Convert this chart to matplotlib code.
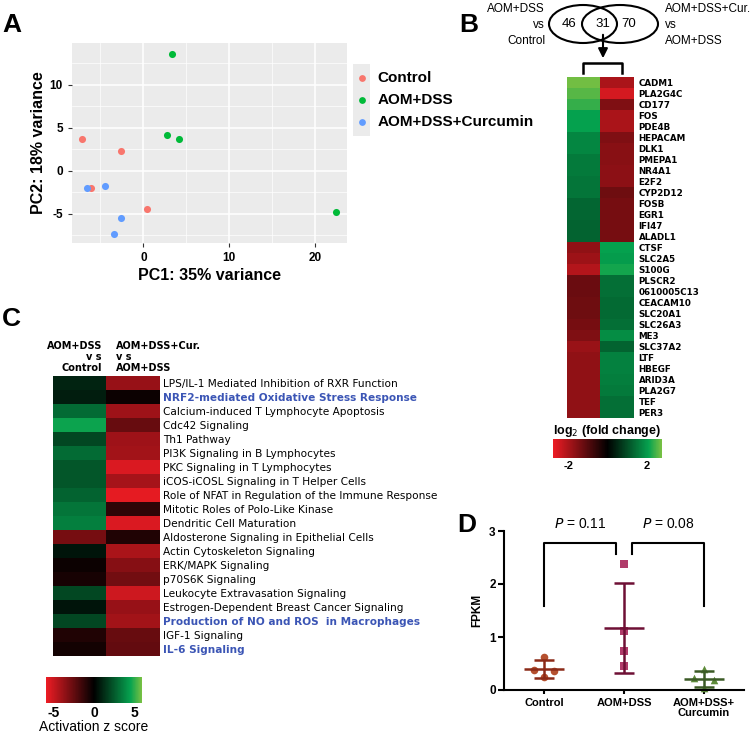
import numpy as np
import matplotlib
matplotlib.use("Agg")
import matplotlib.pyplot as plt
from matplotlib.colors import LinearSegmentedColormap
from matplotlib.patches import Ellipse
from matplotlib.cm import ScalarMappable
from matplotlib.colors import Normalize

plt.rcParams['font.family'] = ['Liberation Sans', 'DejaVu Sans']
plt.rcParams['axes.unicode_minus'] = False

# ---- data: panel A (PCA)
pca_groups = ['Control', 'AOM+DSS', 'AOM+DSS+Curcumin']
pca_colors = ['#F8766D', '#00BA38', '#619CFF']
pc1 = {'Control': [-7.1, -2.6, -6.1, 0.4],
       'AOM+DSS': [3.3, 2.8, 4.15, 22.4],
       'AOM+DSS+Curcumin': [-6.6, -4.5, -2.6, -3.4]}
pc2 = {'Control': [3.7, 2.3, -2.05, -4.5],
       'AOM+DSS': [13.6, 4.2, 3.7, -4.85],
       'AOM+DSS+Curcumin': [-2.05, -1.8, -5.5, -7.3]}

# ---- data: panel B (venn + genes heatmap)
venn_counts = [46, 31, 70]
genes = ['CADM1', 'PLA2G4C', 'CD177', 'FOS', 'PDE4B', 'HEPACAM', 'DLK1', 'PMEPA1',
         'NR4A1', 'E2F2', 'CYP2D12', 'FOSB', 'EGR1', 'IFI47', 'ALADL1', 'CTSF',
         'SLC2A5', 'S100G', 'PLSCR2', '0610005C13', 'CEACAM10', 'SLC20A1', 'SLC26A3',
         'ME3', 'SLC37A2', 'LTF', 'HBEGF', 'ARID3A', 'PLA2G7', 'TEF', 'PER3']
fc_dss = [2.75, 2.6, 2.4, 2.1, 2.1, 1.75, 1.75, 1.6, 1.6, 1.55, 1.55, 1.35, 1.35, 1.3, 1.3,
          -1.7, -1.85, -2.1, -1.25, -1.25, -1.3, -1.3, -1.4, -1.5, -1.8, -1.7, -1.7, -1.7,
          -1.7, -1.7, -1.7]
fc_cur = [-2.0, -2.5, -1.5, -2.0, -2.0, -1.5, -1.6, -1.6, -1.65, -1.65, -1.3, -1.4, -1.4,
          -1.4, -1.4, 2.1, 2.05, 2.2, 1.45, 1.45, 1.4, 1.4, 1.45, 1.85, 1.3, 1.7, 1.7, 1.65,
          1.6, 1.45, 1.45]

# ---- data: panel C (pathways)
pathways = ['LPS/IL-1 Mediated Inhibition of RXR Function',
            'NRF2-mediated Oxidative Stress Response',
            'Calcium-induced T Lymphocyte Apoptosis',
            'Cdc42 Signaling',
            'Th1 Pathway',
            'PI3K Signaling in B Lymphocytes',
            'PKC Signaling in T Lymphocytes',
            'iCOS-iCOSL Signaling in T Helper Cells',
            'Role of NFAT in Regulation of the Immune Response',
            'Mitotic Roles of Polo-Like Kinase',
            'Dendritic Cell Maturation',
            'Aldosterone Signaling in Epithelial Cells',
            'Actin Cytoskeleton Signaling',
            'ERK/MAPK Signaling',
            'p70S6K Signaling',
            'Leukocyte Extravasation Signaling',
            'Estrogen-Dependent Breast Cancer Signaling',
            'Production of NO and ROS  in Macrophages',
            'IGF-1 Signaling',
            'IL-6 Signaling']
highlighted = ['NRF2-mediated Oxidative Stress Response',
               'Production of NO and ROS  in Macrophages',
               'IL-6 Signaling']
z_dss = [1.0, 0.8, 3.0, 4.6, 2.0, 3.0, 2.4, 2.4, 2.8, 3.3, 3.6, -3.0, 0.6, -0.3, -0.6,
         2.0, 0.6, 2.0, -0.8, -0.5]
z_cur = [-3.8, -0.3, -4.0, -2.6, -4.0, -4.1, -5.5, -4.2, -5.8, -1.2, -5.5, -0.8, -4.3,
         -3.4, -2.9, -5.2, -3.8, -4.1, -2.6, -2.5]

# ---- data: panel D (FPKM)
d_groups = ['Control', 'AOM+DSS', 'AOM+DSS+\nCurcumin']
fpkm = [[0.63, 0.38, 0.35, 0.24],
        [2.37, 1.11, 0.73, 0.46],
        [0.40, 0.23, 0.18, 0.04]]
jitter = [[0, -0.12, 0.12, 0], [0, 0, 0, 0], [0, -0.12, 0.12, 0]]
p_values = ['0.11', '0.08']

W, H = 755, 735
fig = plt.figure(figsize=(W / 100, H / 100), dpi=100)


def box(x0, y0, x1, y1):
    return [x0 / W, 1 - y1 / H, (x1 - x0) / W, (y1 - y0) / H]


cmap = LinearSegmentedColormap.from_list('rg', [(0, '#ED1C24'), (0.5, '#000000'),
                                                (0.88, '#06A24F'), (1, '#7AC143')])

# ================= A
axA = fig.add_axes(box(72, 43, 347, 243))
axA.set_facecolor('#EBEBEB')
for g, c in zip(pca_groups, pca_colors):
    axA.scatter(pc1[g], pc2[g], s=26, color=c, zorder=3, linewidths=0)
axA.set_xlim(-8.3, 23.7)
axA.set_ylim(-8.4, 14.85)
axA.set_xticks([0, 10, 20])
axA.set_xticks([-5, 5, 15], minor=True)
axA.set_yticks([-5, 0, 5, 10])
axA.set_yticks([-7.5, -2.5, 2.5, 7.5, 12.5], minor=True)
axA.grid(which='major', color='white', lw=1.1)
axA.grid(which='minor', color='white', lw=0.5)
axA.set_axisbelow(True)
for s in axA.spines.values():
    s.set_visible(False)
axA.tick_params(which='major', length=3, color='#333333', labelsize=8.5)
axA.tick_params(which='minor', length=0)
for lab in axA.get_xticklabels() + axA.get_yticklabels():
    lab.set_fontweight('bold')
axA.set_xlabel('PC1: 35% variance', fontsize=11.5, fontweight='bold', labelpad=3)
axA.set_ylabel('PC2: 18% variance', fontsize=11.5, fontweight='bold', labelpad=3)

# legend
axL = fig.add_axes(box(353, 64, 370, 136))
axL.set_facecolor('#EBEBEB')
for s in axL.spines.values():
    s.set_visible(False)
axL.set_xticks([])
axL.set_yticks([])
axL.set_xlim(0, 1)
axL.set_ylim(2.6, -0.6)
for i, (g, c) in enumerate(zip(pca_groups, pca_colors)):
    axL.scatter([0.5], [i * 0.98], s=24, color=c, linewidths=0)
    axL.text(1.45, i * 0.98, g, fontsize=11, fontweight='bold', va='center', ha='left')

# ================= B heatmap
axB = fig.add_axes(box(567, 77, 633, 418))
matB = np.column_stack([fc_dss, fc_cur])
axB.imshow(matB, cmap=cmap, vmin=-2.8, vmax=2.8, aspect='auto', interpolation='nearest')
axB.set_xticks([])
axB.yaxis.tick_right()
axB.set_yticks(range(len(genes)))
axB.set_yticklabels(genes, fontsize=6.3, fontweight='bold', family='DejaVu Sans')
axB.tick_params(axis='y', length=0, pad=4)
for s in axB.spines.values():
    s.set_visible(False)

cbB = fig.add_axes(box(553, 439, 662, 458))
cb = fig.colorbar(ScalarMappable(Normalize(-2.8, 2.8), cmap), cax=cbB, orientation='horizontal')
cb.set_ticks([-2, 2])
cb.outline.set_visible(False)
cbB.tick_params(length=0, labelsize=8, pad=2)
for lab in cbB.get_xticklabels():
    lab.set_fontweight('bold')
cbB.set_title('log$_2$ (fold change)', fontsize=9, fontweight='bold', pad=1)

# ================= C heatmap
axC = fig.add_axes(box(53, 376, 159, 656))
matC = np.column_stack([z_dss, z_cur])
axC.imshow(matC, cmap=cmap, vmin=-6, vmax=6, aspect='auto', interpolation='nearest')
axC.set_xticks([])
axC.yaxis.tick_right()
axC.set_yticks(range(len(pathways)))
axC.set_yticklabels(pathways, fontsize=7.6, family='DejaVu Sans')
axC.tick_params(axis='y', length=0, pad=3)
for lab in axC.get_yticklabels():
    if lab.get_text() in highlighted:
        lab.set_color('#3B55B5')
        lab.set_fontweight('bold')
for s in axC.spines.values():
    s.set_visible(False)

cbC = fig.add_axes(box(46, 677, 142, 703))
cb2 = fig.colorbar(ScalarMappable(Normalize(-6, 6), cmap), cax=cbC, orientation='horizontal')
cb2.set_ticks([-5, 0, 5])
cb2.outline.set_visible(False)
cbC.tick_params(length=0, labelsize=10, pad=2)
for lab in cbC.get_xticklabels():
    lab.set_fontweight('bold')
cbC.set_xlabel('Activation z score', fontsize=10, labelpad=0)

# ================= D
axD = fig.add_axes(box(504, 531, 744, 690))
pt_colors = ['#B5502F', '#B03C6A', '#5E8C3A']
ln_colors = ['#8B2A18', '#6E1035', '#3B5A25']
markers = ['o', 's', '^']
for i, vals in enumerate(fpkm):
    xs = [i + j for j in jitter[i]]
    axD.scatter(xs, vals, marker=markers[i], s=30, color=pt_colors[i], linewidths=0,
                zorder=2, clip_on=False)
    m = np.mean(vals)
    sd = np.std(vals, ddof=1)
    axD.errorbar(i, m, yerr=sd, color=ln_colors[i], capsize=7, capthick=1.8, lw=1.8,
                 zorder=3)
    axD.hlines(m, i - 0.25, i + 0.25, color=ln_colors[i], lw=1.8, zorder=3)
axD.set_xlim(-0.5, 2.5)
axD.set_ylim(0, 3)
axD.set_yticks([0, 1, 2, 3])
axD.set_xticks([0, 1, 2])
axD.set_xticklabels(d_groups, fontsize=8, fontweight='bold', linespacing=1.0)
for lab in axD.get_yticklabels():
    lab.set_fontweight('bold')
axD.tick_params(axis='y', labelsize=8.5, width=1.5, length=4, pad=2)
axD.tick_params(axis='x', width=1.5, length=3, pad=3)
axD.spines['top'].set_visible(False)
axD.spines['right'].set_visible(False)
axD.spines['left'].set_linewidth(1.5)
axD.spines['bottom'].set_linewidth(1.5)
axD.set_ylabel('FPKM', fontsize=8.5, fontweight='bold', labelpad=4)
axD.plot([0, 0, 0.9, 0.9], [1.58, 2.78, 2.78, 2.57], color='black', lw=1.5, clip_on=False)
axD.plot([1.1, 1.1, 2, 2], [2.57, 2.78, 2.78, 1.58], color='black', lw=1.5, clip_on=False)
axD.text(0.45, 3.14, '$P$ = ' + p_values[0], ha='center', va='center', fontsize=10)
axD.text(1.56, 3.14, '$P$ = ' + p_values[1], ha='center', va='center', fontsize=10)

# ================= overlay: labels, venn, headers
axO = fig.add_axes([0, 0, 1, 1], zorder=-1)
axO.set_xlim(0, W)
axO.set_ylim(H, 0)
axO.axis('off')
for lab, x, y in [('A', 2, 32), ('B', 459, 32), ('C', 2, 326), ('D', 457, 532)]:
    axO.text(x, y, lab, fontsize=19, fontweight='bold', ha='left', va='baseline')

axO.add_patch(Ellipse((583, 24), 68, 38, fill=False, lw=1.5))
axO.add_patch(Ellipse((620, 24), 76, 38, fill=False, lw=1.5))
for n, x in zip(venn_counts, [569, 603, 629]):
    axO.text(x, 24, str(n), fontsize=9.5, ha='center', va='center')
axO.text(545, 25, 'AOM+DSS\nvs\nControl', fontsize=8.5, ha='right', va='center',
         linespacing=1.4)
axO.text(665, 25, 'AOM+DSS+Cur.\nvs\nAOM+DSS', fontsize=8.5, ha='left', va='center',
         linespacing=1.4)
axO.annotate('', xy=(603, 61), xytext=(603, 32),
             arrowprops=dict(arrowstyle='-|>', color='black', lw=1.5, mutation_scale=14))
axO.plot([583, 583, 622, 622], [73, 63, 63, 73], color='black', lw=1.8)

axO.text(102, 357, 'AOM+DSS\nv s\nControl', fontsize=7, fontweight='bold', ha='right',
         va='center', family='DejaVu Sans', linespacing=1.15)
axO.text(116, 357, 'AOM+DSS+Cur.\nv s\nAOM+DSS', fontsize=7, fontweight='bold', ha='left',
         va='center', family='DejaVu Sans', linespacing=1.15)

fig.savefig('out.png', dpi=100)
